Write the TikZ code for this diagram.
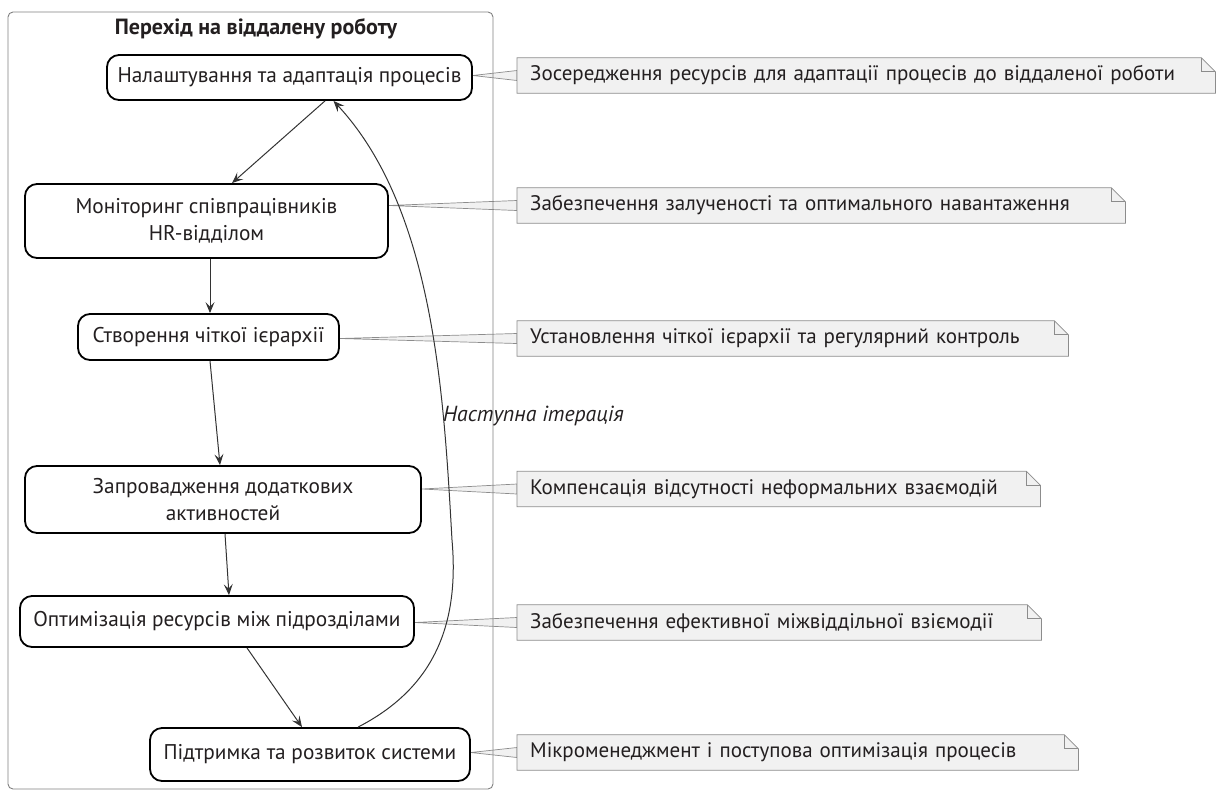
\documentclass[tikz,border=0pt]{standalone}
\usepackage{fontspec}
\setmainfont{PT Sans}
\usetikzlibrary{arrows.meta,calc,backgrounds}
\definecolor{notefill}{HTML}{F1F1F1}
\definecolor{txt}{HTML}{231F20}
\begin{document}
\begin{tikzpicture}[x=1pt,y=-1pt,
  box/.style={draw=black, line width=1.8pt, rounded corners=12pt, fill=white, align=center,
    font=\fontsize{21.3}{27}\selectfont, text=txt, inner sep=0pt},
  note/.style={inner xsep=13pt, inner ysep=0pt, align=left, anchor=west, minimum height=35pt,
    font=\fontsize{21}{24}\selectfont, text=txt},
  arr/.style={draw=black!80, line width=1pt, -{Stealth[length=11pt,width=9pt,inset=4.5pt]}},
  notedraw/.style={fill=notefill, draw=black!45, line width=0.7pt},
  frame/.style={draw=black!50, line width=0.9pt, rounded corners=5pt, inner sep=0pt}
]
\useasboundingbox (0,0) rectangle (1224,796);
\node[frame, minimum width=485pt, minimum height=777pt] (frame) at (250.5,400.5) {};
\node[font=\fontsize{22}{24}\selectfont\bfseries, text=txt] (title) at (256,29) {Перехід на віддалену роботу};

\node[box, minimum width=365pt, minimum height=45pt] (n1) at (289.5,77.5) {Налаштування та адаптація процесів};
\node[box, minimum width=363pt, minimum height=74pt] (n2) at (206.5,221) {Моніторинг співпрацівників\\HR-відділом};
\node[box, minimum width=261pt, minimum height=46pt] (n3) at (208.5,337) {Створення чіткої ієрархії};
\node[box, minimum width=396pt, minimum height=67pt] (n4) at (223,499.5) {Запровадження додаткових\\активностей};
\node[box, minimum width=394pt, minimum height=51pt] (n5) at (217,621.5) {Оптимізація ресурсів між підрозділами};
\node[box, minimum width=320pt, minimum height=53pt] (n6) at (310,754.5) {Підтримка та розвиток системи};

\node[note, text width=672pt] (m1) at (517,75.5) {Зосередження ресурсів для адаптації процесів до віддаленої роботи};
\node[note, text width=582pt] (m2) at (517,205.5) {Забезпечення залученості та оптимального навантаження};
\node[note, text width=525pt] (m3) at (517,338.5) {Установлення чіткої ієрархії та регулярний контроль};
\node[note, text width=497pt] (m4) at (517,489) {Компенсація відсутності неформальних взаємодій};
\node[note, text width=498pt] (m5) at (517,622.5) {Забезпечення ефективної міжвіддільної взіємодії};
\node[note, text width=535pt] (m6) at (517,752.5) {Мікроменеджмент і поступова оптимізація процесів};

\begin{scope}[on background layer]
\foreach \n/\m in {n1/m1,n2/m2,n3/m3,n4/m4,n5/m5,n6/m6}{
  \draw[notedraw] (\n.east |- \m.west) -- ([yshift=5pt]\m.west) -- ([yshift=-5pt]\m.west) -- cycle;
  \draw[notedraw] (\m.north west) -- ([xshift=-14pt]\m.north east) -- ([yshift=-14pt]\m.north east)
     -- (\m.south east) -- (\m.south west) -- cycle;
  \draw[draw=black!45, line width=0.7pt] ([xshift=-14pt]\m.north east) |- ([yshift=-14pt]\m.north east);
}
\end{scope}

\draw[arr] ([xshift=35.5pt]n1.south) -- ([xshift=25.5pt]n2.north);
\draw[arr] ([xshift=3.5pt]n2.south) -- ([xshift=1.5pt]n3.north);
\draw[arr] ([xshift=1.5pt]n3.south) -- ([xshift=-3pt]n4.north);
\draw[arr] ([xshift=2pt]n4.south) -- ([xshift=12pt]n5.north);
\draw[arr] ([xshift=30pt]n5.south) -- ([xshift=-8pt]n6.north);
\draw[arr] ([xshift=48pt]n6.north) .. controls (430,690) and (460,630) .. (452,540)
   .. controls (444,400) and (435,210) .. ([xshift=44pt]n1.south);
\node[anchor=west, font=\fontsize{21.8}{24}\selectfont\itshape, text=txt, inner sep=0pt] (lbl) at (443,416) {Наступна ітерація};
\end{tikzpicture}
\end{document}
